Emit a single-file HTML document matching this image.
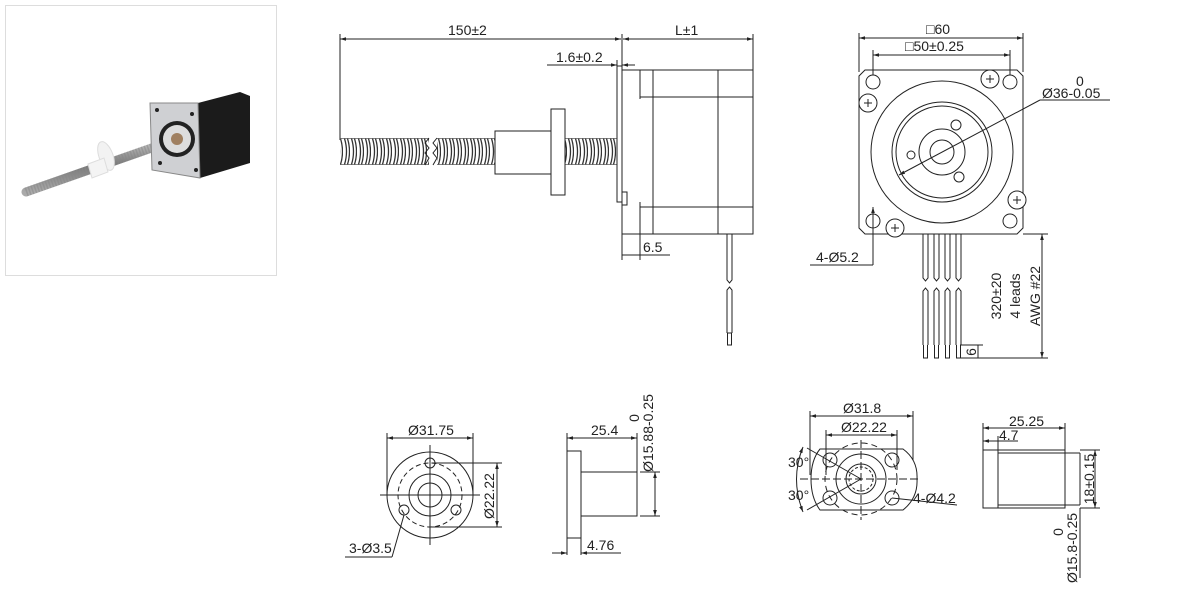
<!DOCTYPE html>
<html><head><meta charset="utf-8">
<style>
html,body{margin:0;padding:0;background:#fff;}
svg{display:block;}
text{font-family:"Liberation Sans","DejaVu Sans",sans-serif;font-size:14px;fill:#222;}
</style></head>
<body>
<svg width="1184" height="605" viewBox="0 0 1184 605" xmlns="http://www.w3.org/2000/svg">
<defs>
<pattern id="thr" x="0" y="138" width="7" height="27" patternUnits="userSpaceOnUse">
<rect width="7" height="27" fill="#fff"/>
<path d="M1.5 0.5 Q5.5 13.5 1.5 26.5" stroke="#333" stroke-width="1.3" fill="none"/>
<path d="M4.5 0.5 Q8.5 13.5 4.5 26.5" stroke="#333" stroke-width="1.3" fill="none"/>
<line x1="0" y1="0.5" x2="7" y2="0.5" stroke="#333" stroke-width="0.6"/>
<line x1="0" y1="26.5" x2="7" y2="26.5" stroke="#333" stroke-width="0.6"/>
</pattern>
<marker id="a" viewBox="0 0 10 10" refX="10" refY="5" markerWidth="6" markerHeight="6" orient="auto-start-reverse"><path d="M0 2 L10 5 L0 8z" fill="#222"/></marker>
<linearGradient id="sc" x1="0" y1="0" x2="0" y2="1"><stop offset="0" stop-color="#ccc"/><stop offset=".5" stop-color="#777"/><stop offset="1" stop-color="#aaa"/></linearGradient>
</defs>

<!-- photo -->
<rect x="5.5" y="5.5" width="271" height="270" fill="#fff" stroke="#ddd"/>
<g>
<line x1="26" y1="192" x2="180" y2="138" stroke="url(#sc)" stroke-width="9" stroke-linecap="round"/>
<line x1="26" y1="192" x2="180" y2="138" stroke="#888" stroke-width="9" stroke-dasharray="1.5 1.5" opacity=".5"/>
<ellipse cx="106" cy="156" rx="7" ry="15" fill="#f2f2f2" stroke="#ddd" transform="rotate(-20 106 156)"/>
<path d="M88 164 L104 158 L108 172 L92 178z" fill="#f4f4f4" stroke="#ddd"/>
<polygon points="198,103 240,92 250,96 250,163 200,178" fill="#1b1b1b"/>
<polygon points="150,103 198,103 200,178 152,170" fill="#cfd0d3" stroke="#888"/>
<circle cx="177" cy="139" r="18" fill="#222"/>
<circle cx="177" cy="139" r="14" fill="#ddd"/>
<circle cx="177" cy="139" r="6" fill="#a08060"/>
<circle cx="157" cy="110" r="2" fill="#222"/><circle cx="192" cy="114" r="2" fill="#222"/>
<circle cx="160" cy="163" r="2" fill="#222"/><circle cx="196" cy="170" r="2" fill="#222"/>
</g>

<g stroke="#222" stroke-width="1" fill="none">
<line x1="340" y1="39" x2="621" y2="39" marker-start="url(#a)" marker-end="url(#a)"/>
<line x1="623" y1="39" x2="753" y2="39" marker-start="url(#a)" marker-end="url(#a)"/>
<line x1="340" y1="34" x2="340" y2="140"/>
<line x1="622" y1="34" x2="622" y2="70"/>
<line x1="753" y1="34" x2="753" y2="70"/>
<line x1="547" y1="65" x2="617" y2="65" marker-end="url(#a)"/>
<line x1="635" y1="65" x2="622" y2="65" marker-end="url(#a)"/>
<line x1="617" y1="60" x2="617" y2="72"/>
<line x1="622" y1="255" x2="670" y2="255"/>
<line x1="622" y1="234" x2="622" y2="260"/>
<line x1="640" y1="234" x2="640" y2="260"/>
</g>
<text x="448" y="35">150±2</text>
<text x="675" y="35">L±1</text>
<text x="556" y="62">1.6±0.2</text>
<text x="643" y="252">6.5</text>

<!-- screw -->
<rect x="340" y="138" width="89" height="27" fill="url(#thr)"/>
<rect x="437" y="138" width="58" height="27" fill="url(#thr)"/>
<rect x="565" y="138" width="52" height="27" fill="url(#thr)"/>
<g stroke="#222" stroke-width="1" fill="#fff">
<polyline points="429,138 425,143 429,148 425,153 429,158 425,165" fill="none"/>
<polyline points="437,138 433,143 437,148 433,153 437,158 433,165" fill="none"/>
<rect x="495" y="131" width="56" height="43"/>
<rect x="551" y="109" width="14" height="86"/>
<rect x="617" y="66" width="5" height="136" fill="none"/>
<rect x="622" y="70" width="131" height="164" fill="none"/>
<line x1="640" y1="70" x2="640" y2="99"/><line x1="640" y1="202" x2="640" y2="234"/>
<line x1="653" y1="70" x2="653" y2="234"/>
<line x1="718" y1="70" x2="718" y2="234"/>
<line x1="640" y1="97" x2="753" y2="97"/>
<line x1="640" y1="207" x2="753" y2="207"/>
<rect x="622" y="192" width="5" height="13"/>
<path d="M727 234 V280 L729.5 283 L732 280 V234" fill="none"/>
<path d="M727 333 V290 L729.5 287 L732 290 V333 M727 333 H732 M727.5 333 V345 H731.5 V333" fill="none"/>
</g>

<!-- front view -->
<g stroke="#222" stroke-width="1" fill="none">
<line x1="859" y1="38" x2="1023" y2="38" marker-start="url(#a)" marker-end="url(#a)"/>
<line x1="873" y1="55" x2="1010" y2="55" marker-start="url(#a)" marker-end="url(#a)"/>
<line x1="859" y1="33" x2="859" y2="72"/><line x1="1023" y1="33" x2="1023" y2="72"/>
<line x1="873" y1="50" x2="873" y2="75"/><line x1="1010" y1="50" x2="1010" y2="75"/>
<path d="M865 70 H1017 L1023 76 V228 L1017 234 H865 L859 228 V76 Z"/>
<circle cx="873" cy="82" r="7"/><circle cx="1010" cy="82" r="7"/>
<circle cx="873" cy="221" r="7"/><circle cx="1010" cy="221" r="7"/>
<circle cx="942" cy="152" r="71"/>
<circle cx="942" cy="152" r="50"/>
<circle cx="942" cy="152" r="46"/>
<circle cx="942" cy="152" r="23"/>
<circle cx="942" cy="152" r="12"/>
<circle cx="956" cy="125" r="5"/><circle cx="959" cy="177" r="5"/><circle cx="911" cy="155" r="4"/>
<g fill="#fff"><circle cx="868" cy="103" r="9"/><circle cx="990" cy="79" r="9"/><circle cx="1017" cy="200" r="9"/><circle cx="895" cy="228" r="9"/></g>
<path d="M864 103h8M868 99v8M986 79h8M990 75v8M1013 200h8M1017 196v8M891 228h8M895 224v8"/>
<line x1="899" y1="175" x2="1040" y2="100" marker-start="url(#a)"/>
<line x1="1040" y1="100" x2="1110" y2="100"/>
<line x1="873" y1="207" x2="873" y2="265" marker-start="url(#a)"/>
<line x1="810" y1="265" x2="873" y2="265"/>
<g>
<path d="M923 234V278l2.5 3l2.5-3V234 M934 234V278l2.5 3l2.5-3V234 M945 234V278l2.5 3l2.5-3V234 M956 234V278l2.5 3l2.5-3V234"/>
<path d="M923 345V291l2.5-3l2.5 3V345 M934 345V291l2.5-3l2.5 3V345 M945 345V291l2.5-3l2.5 3V345 M956 345V291l2.5-3l2.5 3V345"/>
<path d="M923.5 345V358H927.5V345 M934.5 345V358H938.5V345 M945.5 345V358H949.5V345 M956.5 345V358H960.5V345"/>
</g>
<line x1="1023" y1="234" x2="1048" y2="234"/>
<line x1="960" y1="358" x2="1048" y2="358"/>
<line x1="960" y1="345" x2="983" y2="345"/>
<line x1="1042" y1="234" x2="1042" y2="358" marker-start="url(#a)" marker-end="url(#a)"/>
<line x1="978" y1="345" x2="978" y2="358"/>
</g>
<text x="926" y="34">□60</text>
<text x="905" y="51">□50±0.25</text>
<text x="1076" y="86">0</text>
<text x="1042" y="98">Ø36-0.05</text>
<text x="816" y="262">4-Ø5.2</text>
<g transform="translate(1001,296) rotate(-90)"><text x="0" y="0" text-anchor="middle">320±20</text></g>
<g transform="translate(1020,296) rotate(-90)"><text x="0" y="0" text-anchor="middle">4 leads</text></g>
<g transform="translate(1040,296) rotate(-90)"><text x="0" y="0" text-anchor="middle">AWG #22</text></g>
<g transform="translate(976,352) rotate(-90)"><text x="0" y="0" text-anchor="middle">6</text></g>

<!-- bottom left -->
<g stroke="#222" stroke-width="1" fill="none">
<line x1="387" y1="438" x2="473" y2="438" marker-start="url(#a)" marker-end="url(#a)"/>
<line x1="387" y1="433" x2="387" y2="495"/><line x1="473" y1="433" x2="473" y2="495"/>
<circle cx="430" cy="495" r="43"/>
<circle cx="430" cy="495" r="32" stroke-dasharray="5 3"/>
<circle cx="430" cy="495" r="21"/>
<circle cx="430" cy="495" r="12"/>
<line x1="380" y1="495" x2="480" y2="495"/><line x1="430" y1="445" x2="430" y2="545"/>
<circle cx="430" cy="463" r="5"/><circle cx="404" cy="510" r="5"/><circle cx="456" cy="510" r="5"/>
<line x1="432" y1="463" x2="502" y2="463"/><line x1="430" y1="527" x2="502" y2="527"/>
<line x1="497" y1="463" x2="497" y2="527" marker-start="url(#a)" marker-end="url(#a)"/>
<line x1="404" y1="515" x2="392" y2="557"/><line x1="345" y1="557" x2="392" y2="557"/>
<rect x="567" y="451" width="14" height="87"/>
<rect x="581" y="472" width="56" height="44"/>
<line x1="567" y1="438" x2="637" y2="438" marker-start="url(#a)" marker-end="url(#a)"/>
<line x1="567" y1="433" x2="567" y2="451"/><line x1="637" y1="433" x2="637" y2="472"/>
<line x1="640" y1="472" x2="660" y2="472"/><line x1="640" y1="516" x2="660" y2="516"/>
<line x1="655" y1="472" x2="655" y2="516" marker-start="url(#a)" marker-end="url(#a)"/>
<line x1="567" y1="538" x2="567" y2="555"/><line x1="581" y1="538" x2="581" y2="555"/>
<line x1="552" y1="553" x2="567" y2="553" marker-end="url(#a)"/>
<line x1="621" y1="553" x2="581" y2="553" marker-end="url(#a)"/>
</g>
<text x="408" y="435">Ø31.75</text>
<text x="591" y="435">25.4</text>
<text x="587" y="550">4.76</text>
<text x="349" y="553">3-Ø3.5</text>
<g transform="translate(494,496) rotate(-90)"><text x="0" y="0" text-anchor="middle">Ø22.22</text></g>
<g transform="translate(653,433) rotate(-90)"><text x="0" y="0" text-anchor="middle">Ø15.88-0.25</text></g>
<g transform="translate(639,418) rotate(-90)"><text x="0" y="0" text-anchor="middle">0</text></g>

<!-- bottom right -->
<g stroke="#222" stroke-width="1" fill="none">
<line x1="810" y1="416" x2="913" y2="416" marker-start="url(#a)" marker-end="url(#a)"/>
<line x1="810" y1="411" x2="810" y2="475"/><line x1="913" y1="411" x2="913" y2="460"/>
<line x1="826" y1="435" x2="897" y2="435" marker-start="url(#a)" marker-end="url(#a)"/>
<line x1="826" y1="430" x2="826" y2="475"/><line x1="897" y1="430" x2="897" y2="470"/>
<path d="M820 449 H903 Q918 460 917 479 Q918 498 903 510 H820 Q811 498 811 479 Q811 460 820 449 Z"/>
<circle cx="861" cy="479" r="36" stroke-dasharray="6 4"/>
<circle cx="861" cy="479" r="25"/>
<circle cx="861" cy="479" r="15"/>
<circle cx="861" cy="479" r="12" stroke-dasharray="3 2"/>
<line x1="800" y1="479" x2="920" y2="479" stroke-dasharray="8 3"/>
<line x1="861" y1="440" x2="861" y2="520" stroke-dasharray="8 3"/>
<circle cx="830" cy="460" r="7"/><circle cx="892" cy="460" r="7"/>
<circle cx="830" cy="498" r="7"/><circle cx="892" cy="498" r="7"/>
<line x1="807" y1="448" x2="861" y2="479"/><line x1="807" y1="510" x2="861" y2="479"/>
<path d="M803 447 Q790 479 803 512" marker-start="url(#a)" marker-end="url(#a)"/>
<line x1="892" y1="498" x2="957" y2="505"/>
<rect x="983" y="450" width="82" height="58"/>
<line x1="998" y1="450" x2="998" y2="508"/>
<line x1="998" y1="453" x2="1080" y2="453"/><line x1="998" y1="505" x2="1080" y2="505"/>
<line x1="1080" y1="453" x2="1080" y2="505"/>
<line x1="983" y1="428" x2="1065" y2="428" marker-start="url(#a)" marker-end="url(#a)"/>
<line x1="983" y1="423" x2="983" y2="450"/><line x1="1065" y1="423" x2="1065" y2="450"/>
<line x1="998" y1="436" x2="998" y2="450"/>
<line x1="983" y1="441" x2="998" y2="441" marker-start="url(#a)"/>
<line x1="998" y1="441" x2="1018" y2="441"/>
<line x1="1080" y1="450" x2="1100" y2="450"/><line x1="1080" y1="508" x2="1100" y2="508"/>
<line x1="1095" y1="450" x2="1095" y2="508" marker-start="url(#a)" marker-end="url(#a)"/>
<line x1="1080" y1="508" x2="1080" y2="578"/>
</g>
<text x="843" y="413">Ø31.8</text>
<text x="841" y="432">Ø22.22</text>
<text x="788" y="467">30°</text>
<text x="788" y="500">30°</text>
<text x="913" y="503">4-Ø4.2</text>
<text x="1009" y="426">25.25</text>
<text x="999" y="440">4.7</text>
<g transform="translate(1094,479) rotate(-90)"><text x="0" y="0" text-anchor="middle">18±0.15</text></g>
<g transform="translate(1077,548) rotate(-90)"><text x="0" y="0" text-anchor="middle">Ø15.8-0.25</text></g>
<g transform="translate(1063,532) rotate(-90)"><text x="0" y="0" text-anchor="middle">0</text></g>
</svg>
</body></html>
